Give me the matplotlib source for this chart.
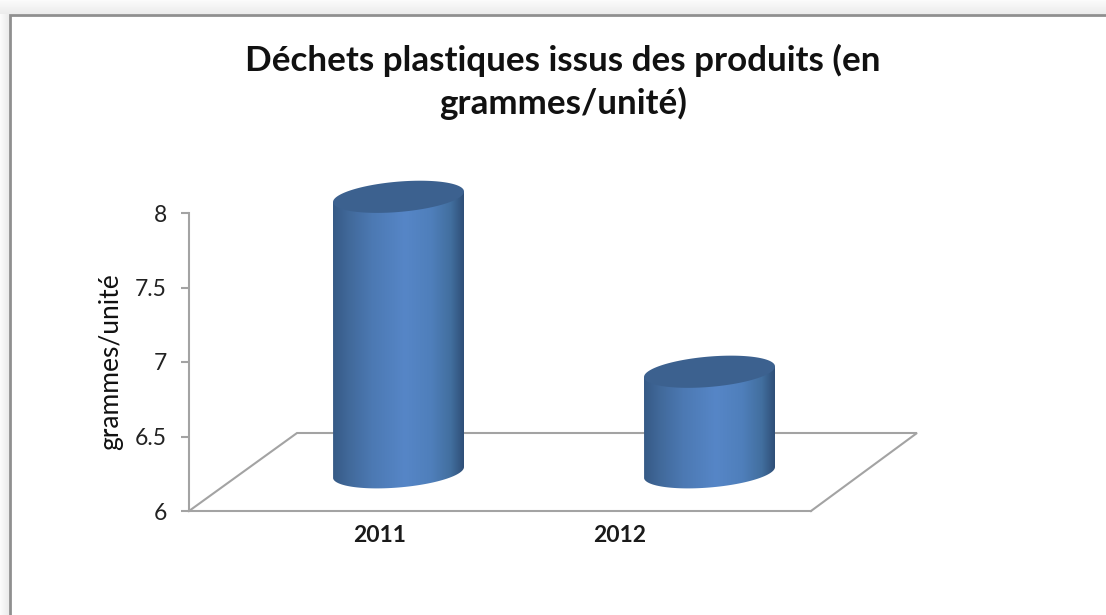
import numpy as np
import matplotlib
matplotlib.use("Agg")
import matplotlib.pyplot as plt
from matplotlib.path import Path
from matplotlib.patches import PathPatch
from matplotlib.colors import LinearSegmentedColormap

W, H = 1106, 615

# values
years = ["2011", "2012"]
values = [8.0, 6.73]
y_ticks = [6, 6.5, 7, 7.5, 8]
y_tick_labels = ["6", "6.5", "7", "7.5", "8"]

title = "Déchets plastiques issus des produits (en\ngrammes/unité)"
y_label = "grammes/unité"

GREY = "#a3a3a3"
plt.rcParams["font.family"] = ["Lato", "DejaVu Sans"]

fig = plt.figure(figsize=(W / 100, H / 100), dpi=100, facecolor="white")


def box(x0, y0, x1, y1):
    # pixel box (y going down) to figure fractions
    return [x0 / W, 1 - y1 / H, (x1 - x0) / W, (y1 - y0) / H]


# page: full figure axes in pixels, holds the grey margin, frame and floor
page = fig.add_axes([0, 0, 1, 1], zorder=0)
page.set_xlim(0, W)
page.set_ylim(H, 0)
page.axis("off")
shade = LinearSegmentedColormap.from_list("shade", ["#fbfbfb", "#ececec"])
page.imshow(np.linspace(0, 1, 14)[:, None], extent=(0, W, 14, 0), cmap=shade, aspect="auto")
page.imshow(np.linspace(0, 1, 9)[None, :], extent=(0, 9, H, 14), cmap=shade, aspect="auto")
page.set_xlim(0, W)
page.set_ylim(H, 0)
page.plot([9.5, 9.5, W], [H, 14.5, 14.5], color="#8f8f8f", lw=2.0, solid_joinstyle="miter")
page.plot([189, 297, 917, 811], [511, 433, 433, 511], color=GREY, lw=1.5, solid_joinstyle="miter")

# the value axis with the front edge of the floor
ax = fig.add_axes(box(189, 213, 811, 511), zorder=1)
ax.patch.set_alpha(0)
ax.set_ylim(6, 8)
ax.set_xlim(-0.796, 1.796)
ax.set_yticks(y_ticks)
ax.set_yticklabels(y_tick_labels, fontsize=16.5, color="#222222")
ax.set_xticks([0, 1])
ax.set_xticklabels(years, fontsize=16.5, fontweight="bold", color="#1a1a1a")
ax.spines["top"].set_visible(False)
ax.spines["right"].set_visible(False)
for side in ["left", "bottom"]:
    ax.spines[side].set_color(GREY)
    ax.spines[side].set_linewidth(1.5)
ax.tick_params(axis="y", length=6, width=1.5, color=GREY, pad=10)
ax.tick_params(axis="x", length=0, pad=10)
ax.set_ylabel(y_label, fontsize=19, color="#111111", labelpad=0)
ax.yaxis.set_label_coords(-0.106, 0.5)

# cylinders: their own scale since the 3d chart shrinks the bars
bars = fig.add_axes([0, 0, 1, 1], zorder=2)
bars.patch.set_alpha(0)
bars.axis("off")
px_x = 311.0
px_y = 275.5 / 2
base_x, base_y = 398.5, 472.3
xlim = (-base_x / px_x, (W - base_x) / px_x)
ylim = (6 - (H - base_y) / px_y, 6 + base_y / px_y)

half_w = 65.5 / px_x
rise = 5.3 / px_y
depth = 15.2 / px_y
body_cmap = LinearSegmentedColormap.from_list(
    "body",
    [(0, "#365a86"), (0.12, "#41699a"), (0.3, "#4c79b3"), (0.55, "#5686c7"),
     (0.75, "#4f7fbb"), (0.9, "#426f9f"), (1, "#2f4f78")],
)
t = np.linspace(0, 2 * np.pi, 121)


def ring(x, y):
    # tilted ellipse, left side lower than the right
    return x + half_w * np.cos(t), y + rise * np.cos(t) + depth * np.sin(t)


for i, v in enumerate(values):
    xt, yt = ring(i, v)
    xb, yb = ring(i, 6)
    # outline: top edge plus lower half of the base ellipse
    low = np.sin(t) <= 0
    order = np.argsort(xb[low])
    body_x = np.r_[i - half_w, xb[low][order], i + half_w]
    body_y = np.r_[v - rise, yb[low][order], v + rise]
    body_path = Path(np.c_[body_x, body_y])
    im = bars.imshow(
        np.linspace(0, 1, 256)[None, :],
        extent=(i - half_w, i + half_w, 6 - 0.2, v + 0.2),
        cmap=body_cmap,
        aspect="auto",
        interpolation="bilinear",
    )
    clip = PathPatch(body_path, transform=bars.transData, fc="none", ec="none")
    bars.add_patch(clip)
    im.set_clip_path(clip)
    bars.fill(xt, yt, color="#3c618f", lw=0, zorder=3)

bars.set_xlim(*xlim)
bars.set_ylim(*ylim)

fig.text(563 / W, 1 - 82 / H, title, ha="center", va="center", fontsize=25.2,
         fontweight="bold", color="#111111", linespacing=1.35)

fig.savefig("out.png", dpi=100)
